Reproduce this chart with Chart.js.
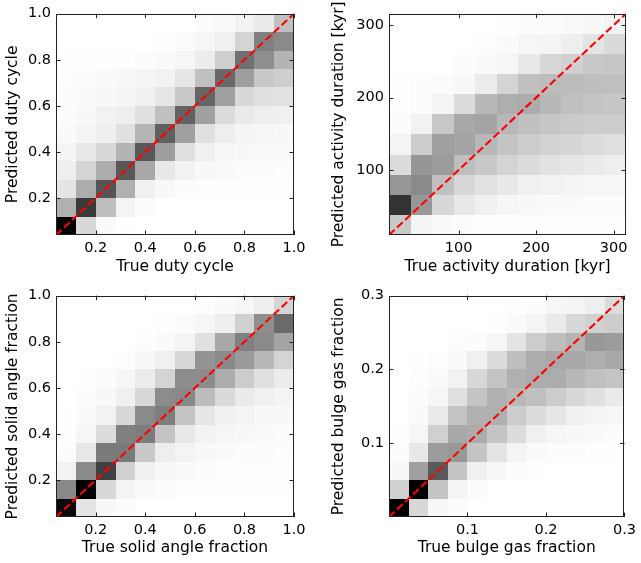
<!DOCTYPE html>
<html>
<head>
<meta charset="utf-8">
<script src="https://cdn.jsdelivr.net/npm/chart.js@4.4.0/dist/chart.umd.min.js"></script>
<style>
  body { margin: 0; background: #fff; }
  #wrap { position: relative; width: 641px; height: 563px; }
  canvas { position: absolute; }
</style>
</head>
<body>
<div id="wrap">
  <canvas id="duty" width="320" height="281" style="left:0;top:0"></canvas>
  <canvas id="duration" width="321" height="281" style="left:320px;top:0"></canvas>
  <canvas id="solid" width="320" height="281" style="left:0;top:282px"></canvas>
  <canvas id="bulge" width="321" height="281" style="left:320px;top:282px"></canvas>
</div>
<script>
// Histogram darkness per cell (0 = empty/white, 255 = fullest/black).
// Each list of rows starts at the highest predicted bin and goes down.

// Duty cycle, 12 x 12 bins
const dutyRange = [0.04, 1.0];
const dutyTicks = [0.2, 0.4, 0.6, 0.8, 1.0];
const dutyRows = [
    [0, 0, 0, 0, 0, 0, 0, 3, 5, 12, 21, 63],
    [0, 0, 0, 0, 0, 2, 4, 9, 15, 43, 127, 117],
    [1, 1, 1, 1, 3, 5, 9, 18, 49, 143, 113, 75],
    [2, 3, 5, 7, 10, 13, 25, 63, 151, 97, 55, 49],
    [3, 5, 7, 10, 15, 25, 55, 154, 95, 39, 31, 29],
    [3, 7, 13, 17, 31, 63, 157, 95, 35, 21, 17, 15],
    [5, 10, 17, 31, 74, 159, 95, 31, 17, 11, 9, 7],
    [11, 23, 39, 75, 167, 97, 31, 15, 9, 7, 5, 5],
    [17, 43, 83, 167, 87, 23, 13, 7, 5, 3, 3, 2],
    [27, 83, 170, 79, 15, 7, 3, 2, 1, 1, 1, 1],
    [79, 197, 65, 11, 3, 0, 0, 0, 0, 0, 0, 0],
    [255, 39, 5, 1, 0, 0, 0, 0, 0, 0, 0, 0]
];

// Activity duration [kyr], 11 x 11 bins
const durationRange = [10, 316];
const durationTicks = [100, 200, 300];
const durationRows = [
    [0, 0, 0, 0, 0, 1, 3, 4, 6, 7, 11],
    [0, 0, 0, 0, 2, 5, 9, 11, 17, 27, 37],
    [0, 0, 0, 3, 5, 9, 23, 39, 47, 55, 57],
    [1, 3, 4, 7, 19, 43, 63, 67, 67, 65, 63],
    [1, 3, 11, 35, 71, 81, 83, 71, 63, 59, 57],
    [3, 13, 55, 87, 91, 71, 63, 57, 53, 51, 51],
    [11, 51, 95, 91, 71, 59, 51, 45, 41, 35, 31],
    [35, 105, 99, 65, 55, 43, 35, 29, 25, 21, 17],
    [104, 117, 63, 39, 29, 23, 15, 13, 11, 9, 9],
    [204, 103, 39, 23, 15, 9, 7, 5, 5, 4, 4],
    [55, 11, 5, 3, 1, 1, 1, 1, 1, 1, 1]
];

// Solid angle fraction, 12 x 12 bins
const solidRange = [0.04, 1.0];
const solidTicks = [0.2, 0.4, 0.6, 0.8, 1.0];
const solidRows = [
    [0, 0, 0, 0, 0, 0, 0, 2, 5, 9, 17, 43],
    [0, 0, 0, 0, 0, 2, 4, 9, 17, 47, 113, 149],
    [0, 0, 0, 0, 2, 5, 11, 31, 87, 127, 117, 91],
    [0, 0, 0, 2, 7, 15, 39, 107, 117, 101, 71, 43],
    [0, 1, 4, 9, 19, 43, 115, 115, 83, 51, 31, 19],
    [0, 3, 7, 15, 39, 115, 119, 67, 37, 21, 15, 11],
    [1, 5, 13, 39, 117, 129, 59, 25, 15, 11, 7, 7],
    [1, 9, 35, 127, 131, 59, 23, 13, 9, 7, 5, 3],
    [3, 23, 133, 133, 55, 17, 11, 7, 5, 3, 3, 2],
    [13, 117, 191, 47, 15, 7, 5, 3, 1, 1, 1, 1],
    [119, 255, 39, 11, 5, 3, 1, 1, 1, 1, 1, 1],
    [245, 27, 7, 3, 0, 0, 0, 0, 0, 0, 0, 0]
];

// Bulge gas fraction, 12 x 12 bins
const bulgeRange = [0, 0.3];
const bulgeTicks = [0.1, 0.2, 0.3];
const bulgeRows = [
    [0, 0, 0, 0, 0, 0, 1, 3, 9, 11, 17, 35],
    [0, 0, 0, 0, 0, 1, 5, 11, 21, 39, 47, 51],
    [0, 0, 0, 2, 3, 9, 27, 51, 65, 75, 103, 99],
    [0, 1, 2, 5, 15, 35, 65, 83, 87, 87, 81, 87],
    [0, 2, 5, 13, 39, 59, 79, 83, 83, 71, 63, 59],
    [0, 3, 9, 31, 59, 79, 71, 63, 51, 39, 31, 21],
    [0, 5, 21, 59, 79, 79, 51, 35, 25, 15, 11, 9],
    [1, 9, 47, 87, 83, 59, 35, 15, 9, 7, 5, 3],
    [3, 23, 99, 103, 59, 27, 11, 5, 3, 3, 1, 1],
    [7, 95, 165, 59, 15, 7, 3, 1, 0, 0, 0, 0],
    [47, 255, 59, 11, 3, 0, 0, 0, 0, 0, 0, 0],
    [255, 39, 7, 3, 0, 0, 0, 0, 0, 0, 0, 0]
];

const FONT = 'DejaVu Sans';

// draws the 2d histogram cells under the diagonal line
const heatmap = {
    id: 'heatmap',
    beforeDatasetsDraw(chart, args, opts) {
        const { ctx, scales: { x, y } } = chart;
        const rows = opts.rows;
        const nRows = rows.length;
        const nCols = rows[0].length;
        const [lo, hi] = opts.range;
        const dx = (hi - lo) / nCols;
        const dy = (hi - lo) / nRows;
        ctx.save();
        rows.forEach((row, r) => {
            const bin = nRows - 1 - r;
            const y0 = Math.round(y.getPixelForValue(lo + bin * dy));
            const y1 = Math.round(y.getPixelForValue(lo + (bin + 1) * dy));
            row.forEach((v, c) => {
                const x0 = Math.round(x.getPixelForValue(lo + c * dx));
                const x1 = Math.round(x.getPixelForValue(lo + (c + 1) * dx));
                const g = 255 - v;
                ctx.fillStyle = `rgb(${g},${g},${g})`;
                ctx.fillRect(x0, y1, x1 - x0, y0 - y1);
            });
        });
        ctx.restore();
    }
};

// box around the plot with inward ticks on all four sides
const frame = {
    id: 'frame',
    afterDatasetsDraw(chart) {
        const { ctx, chartArea: a, scales: { x, y } } = chart;
        const len = 4.5;
        ctx.save();
        ctx.strokeStyle = '#222';
        ctx.lineWidth = 1;
        ctx.beginPath();
        x.ticks.forEach(t => {
            const px = Math.round(x.getPixelForValue(t.value)) + 0.5;
            ctx.moveTo(px, a.bottom); ctx.lineTo(px, a.bottom - len);
            ctx.moveTo(px, a.top); ctx.lineTo(px, a.top + len);
        });
        y.ticks.forEach(t => {
            const py = Math.round(y.getPixelForValue(t.value)) + 0.5;
            ctx.moveTo(a.left, py); ctx.lineTo(a.left + len, py);
            ctx.moveTo(a.right, py); ctx.lineTo(a.right - len, py);
        });
        ctx.stroke();
        ctx.strokeRect(Math.round(a.left) + 0.5, Math.round(a.top) + 0.5,
            Math.round(a.right - a.left) - 1, Math.round(a.bottom - a.top) - 1);
        ctx.restore();
    }
};

function axisOpts(pos, range, ticks, decimals, title, size, titlePad) {
    return {
        type: 'linear',
        position: pos,
        min: range[0],
        max: range[1],
        grid: { display: false, drawTicks: false },
        border: { display: false },
        afterBuildTicks: s => { s.ticks = ticks.map(v => ({ value: v })); },
        afterFit: s => {
            if (pos === 'left') s.width = size;
            else s.height = size;
        },
        ticks: {
            padding: 5,
            color: '#000',
            autoSkip: false,
            maxRotation: 0,
            font: { family: FONT, size: 14.5 },
            callback: v => Number(v).toFixed(decimals)
        },
        title: {
            display: true,
            text: title,
            color: '#000',
            font: { family: FONT, size: 15.5 },
            padding: titlePad
        }
    };
}

function makePanel(id, rows, range, ticks, decimals, xTitle, yTitle, yWidth, rightPad, xTitlePad, yTitlePad) {
    new Chart(document.getElementById(id), {
        type: 'scatter',
        data: {
            datasets: [{
                data: [{ x: range[0], y: range[0] }, { x: range[1], y: range[1] }],
                showLine: true,
                borderColor: '#ff0000',
                borderWidth: 2.1,
                borderDash: [7.7, 3.3],
                pointRadius: 0
            }]
        },
        options: {
            responsive: false,
            animation: false,
            layout: { padding: { top: 11, right: rightPad, left: 0, bottom: 0 } },
            plugins: {
                legend: { display: false },
                tooltip: { enabled: false },
                heatmap: { rows: rows, range: range }
            },
            scales: {
                x: axisOpts('bottom', range, ticks, decimals, xTitle, 46, { top: 0, bottom: xTitlePad }),
                y: axisOpts('left', range, ticks, decimals, yTitle, yWidth, { top: yTitlePad, bottom: 0 })
            }
        },
        plugins: [heatmap, frame]
    });
}

makePanel('duty', dutyRows, dutyRange, dutyTicks, 1,
    'True duty cycle', 'Predicted duty cycle', 56, 26, 4.8, 3.8);
makePanel('duration', durationRows, durationRange, durationTicks, 0,
    'True activity duration [kyr]', 'Predicted activity duration [kyr]', 69, 15, 4.8, 10);
makePanel('solid', solidRows, solidRange, solidTicks, 1,
    'True solid angle fraction', 'Predicted solid angle fraction', 56, 26, 6.2, 3.8);
makePanel('bulge', bulgeRows, bulgeRange, bulgeTicks, 1,
    'True bulge gas fraction', 'Predicted bulge gas fraction', 69, 14, 6.2, 10);
</script>
</body>
</html>
